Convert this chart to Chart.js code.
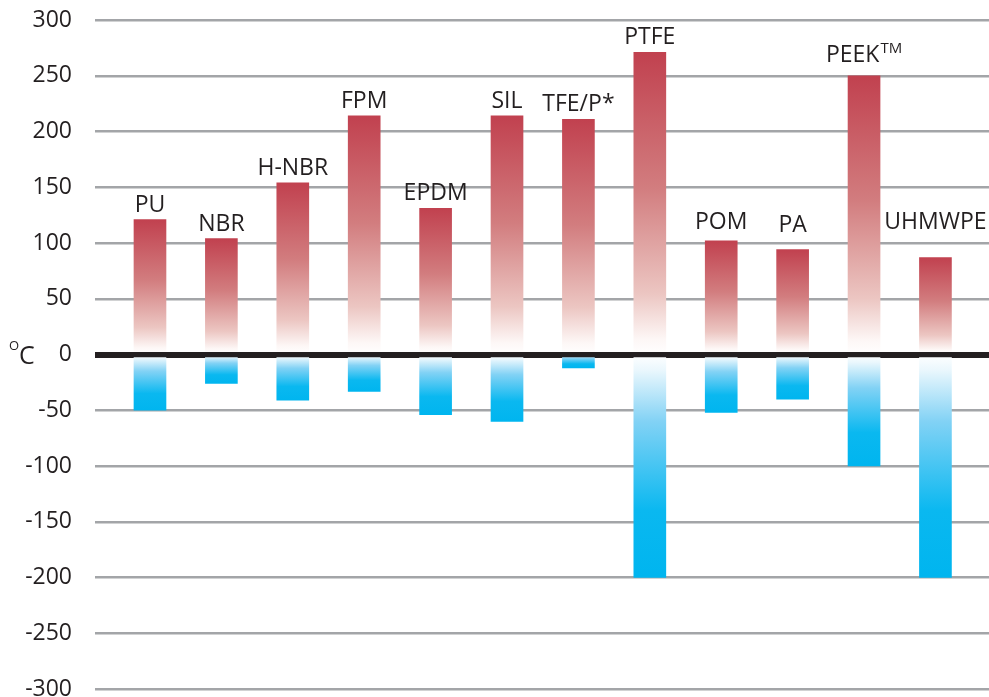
<!DOCTYPE html>
<html>
<head>
<meta charset="utf-8">
<script src="https://cdn.jsdelivr.net/npm/chart.js@4/dist/chart.umd.min.js"></script>
<style>
    html, body { margin: 0; padding: 0; background: #fff; }
    #wrap { width: 989px; height: 697px; }
</style>
</head>
<body>
<div id="wrap"><canvas id="tempChart" width="989" height="697"></canvas></div>
<script>
// Service temperature range per material (°C)
const materials = ["PU", "NBR", "H-NBR", "FPM", "EPDM", "SIL", "TFE/P*", "PTFE", "POM", "PA", "PEEK™", "UHMWPE"];
const maxTemp = [121, 104, 154, 214, 131, 214, 211, 271, 102, 94, 250, 87];
const minTemp = [-50, -26, -41, -33, -54, -60, -12, -200, -52, -40, -100, -200];
const yTicks = [-300, -250, -200, -150, -100, -50, 0, 50, 100, 150, 200, 250, 300];

const textColor = "#231f20";
const fontFamily = "'Open Sans', 'Noto Sans', sans-serif";

// gradient that runs from the bar end (strong colour) to the zero line (white)
function barGradient(ctx, values, stops) {
    const chart = ctx.chart;
    if (!chart.chartArea) return stops[0][1];
    const y = chart.scales.y;
    const end = y.getPixelForValue(values[ctx.dataIndex]);
    const zero = y.getPixelForValue(0);
    const g = chart.ctx.createLinearGradient(0, end, 0, zero);
    stops.forEach(([pos, col]) => g.addColorStop(pos, col));
    return g;
}

const redStops = [
    [0, "#c1414f"],
    [0.45, "#d27d7f"],
    [0.8, "#ecc6c2"],
    [0.95, "#fdf7f6"],
    [1, "#ffffff"]
];
const blueStops = [
    [0, "#00b5ef"],
    [0.3, "#0ab8f0"],
    [0.7, "#82d2f5"],
    [0.93, "#eaf7fd"],
    [1, "#ffffff"]
];

const labelPlugin = {
    id: "barLabels",
    afterDatasetsDraw(chart, args, opts) {
        const ctx = chart.ctx;
        const meta = chart.getDatasetMeta(0);
        ctx.save();
        ctx.fillStyle = textColor;
        ctx.textBaseline = "alphabetic";
        meta.data.forEach((bar, i) => {
            let name = materials[i];
            const lift = opts.lift[name] || 0;
            const baseY = bar.y - 8 - lift;
            ctx.font = "23px " + fontFamily;
            if (name.endsWith("™")) {
                name = name.slice(0, -1);
                const w = ctx.measureText(name).width;
                ctx.font = "15px " + fontFamily;
                const tw = ctx.measureText("TM").width;
                const left = bar.x - (w + tw + 1) / 2;
                ctx.textAlign = "left";
                ctx.fillText("TM", left + w + 1, baseY - 9);
                ctx.font = "23px " + fontFamily;
                ctx.fillText(name, left, baseY);
            } else {
                ctx.textAlign = "center";
                ctx.fillText(name, bar.x, baseY);
            }
        });

        // unit label next to the zero tick
        const zy = chart.scales.y.getPixelForValue(0);
        ctx.textAlign = "left";
        ctx.textBaseline = "middle";
        ctx.font = "25px " + fontFamily;
        ctx.fillText("C", 19, zy + 2);
        ctx.font = "13px " + fontFamily;
        ctx.fillText("O", 9, zy - 8);
        ctx.restore();
    }
};

new Chart(document.getElementById("tempChart"), {
    type: "bar",
    data: {
        datasets: [{
            label: "max",
            data: maxTemp.map((v, i) => ({ x: i, y: v })),
            backgroundColor: ctx => barGradient(ctx, maxTemp, redStops),
            barThickness: 32,
            grouped: false
        },
        {
            label: "min",
            data: minTemp.map((v, i) => ({ x: i, y: v })),
            backgroundColor: ctx => barGradient(ctx, minTemp, blueStops),
            barThickness: 32,
            grouped: false
        }]
    },
    options: {
        responsive: false,
        devicePixelRatio: 1,
        animation: false,
        layout: { padding: { top: 20, bottom: 8, left: 0, right: 0 } },
        plugins: {
            legend: { display: false },
            tooltip: { enabled: false },
            barLabels: { lift: { "POM": 4, "PA": 10, "PEEK™": 6, "UHMWPE": 20 } }
        },
        scales: {
            x: {
                type: "linear",
                offset: false,
                min: -0.77,
                max: 11.75,
                display: false
            },
            y: {
                min: -300,
                max: 300,
                z: 1,
                afterBuildTicks: scale => {
                    scale.ticks = yTicks.map(v => ({ value: v }));
                },
                afterFit: scale => {
                    scale.width = 95;
                    scale.paddingTop = 0;
                    scale.paddingBottom = 0;
                },
                border: { display: false },
                grid: {
                    drawTicks: false,
                    color: ctx => ctx.tick && ctx.tick.value === 0 ? "#231f20" : "rgba(140,142,146,0.8)",
                    lineWidth: ctx => ctx.tick && ctx.tick.value === 0 ? 6 : 2.5
                },
                ticks: {
                    padding: 23,
                    color: textColor,
                    font: { family: fontFamily, size: 23 }
                }
            }
        }
    },
    plugins: [labelPlugin]
});
</script>
</body>
</html>
